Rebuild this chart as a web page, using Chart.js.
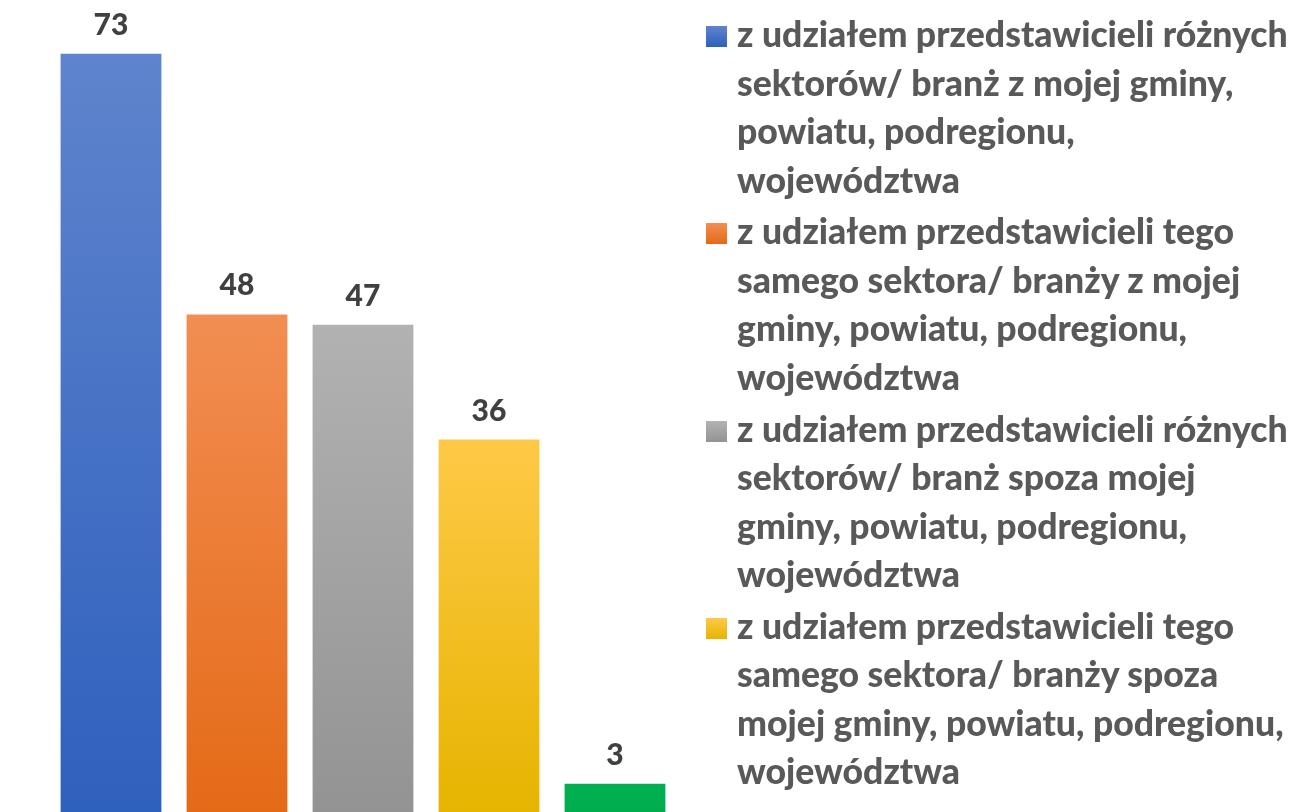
<!DOCTYPE html>
<html>
<head>
<meta charset="utf-8">
<script src="https://cdn.jsdelivr.net/npm/chart.js@4.4.1/dist/chart.umd.min.js"></script>
<style>
  html, body { margin: 0; padding: 0; background: #ffffff; overflow: hidden; width: 1303px; height: 812px; }
  #wrap { position: absolute; left: 0; top: 0; width: 1303px; height: 815px; }
  #legend { position: absolute; left: 0; top: 0; }
  .item { position: absolute; left: 706px; }
  .sw { position: absolute; left: 0; width: 21px; height: 21px; }
  .txt { position: absolute; left: 31px; white-space: pre; color: #595959; font-family: Lato, "Open Sans", sans-serif; font-weight: 900; line-height: 48.5px; }
</style>
</head>
<body>
<div id="wrap"><canvas id="c"></canvas></div>
<div id="legend"></div>
<script>
// ---- data ----
const categories = [
  ["z udziałem przedstawicieli różnych", "sektorów/ branż z mojej gminy,", "powiatu, podregionu,", "województwa"],
  ["z udziałem przedstawicieli tego", "samego sektora/ branży z mojej", "gminy, powiatu, podregionu,", "województwa"],
  ["z udziałem przedstawicieli różnych", "sektorów/ branż spoza mojej", "gminy, powiatu, podregionu,", "województwa"],
  ["z udziałem przedstawicieli tego", "samego sektora/ branży spoza", "mojej gminy, powiatu, podregionu,", "województwa"],
  [""]
];
const values = [73, 48, 47, 36, 3];
const colorsTop = ["#5f84cd", "#f28e52", "#b2b2b2", "#ffc947", "#00b050"];
const colorsBottom = ["#2e60bd", "#e46a17", "#939393", "#e6b400", "#00ad4e"];

// ---- chart ----
function barGradient(ctx) {
  const chart = ctx.chart;
  const area = chart.chartArea;
  if (!area) return colorsTop[ctx.dataIndex];
  const yScale = chart.scales.y;
  const top = yScale.getPixelForValue(values[ctx.dataIndex]);
  const bottom = yScale.getPixelForValue(0);
  const g = chart.ctx.createLinearGradient(0, top, 0, bottom);
  g.addColorStop(0, colorsTop[ctx.dataIndex]);
  g.addColorStop(1, colorsBottom[ctx.dataIndex]);
  return g;
}

const labelPlugin = {
  id: 'valueLabels',
  afterDatasetsDraw(chart) {
    const ctx = chart.ctx;
    const meta = chart.getDatasetMeta(0);
    ctx.save();
    ctx.font = "900 30px Lato, 'Open Sans', sans-serif";
    ctx.fillStyle = "#404040";
    ctx.textAlign = "center";
    ctx.textBaseline = "alphabetic";
    meta.data.forEach((bar, i) => {
      ctx.fillText(String(values[i]), bar.x, bar.y - 19);
    });
    ctx.restore();
  }
};

new Chart(document.getElementById('c'), {
  type: 'bar',
  data: {
    labels: categories,
    datasets: [{
      data: values,
      backgroundColor: barGradient,
      borderWidth: 0,
      barPercentage: 0.8,
      categoryPercentage: 1.0
    }]
  },
  options: {
    responsive: true,
    maintainAspectRatio: false,
    animation: false,
    layout: { padding: { left: 48, right: 625, top: 0, bottom: 0 } },
    plugins: { legend: { display: false }, tooltip: { enabled: false } },
    scales: {
      x: { display: false },
      y: { display: false, min: 0, max: 78.15 }
    }
  },
  plugins: [labelPlugin]
});

// ---- legend (HTML) ----
const legend = document.getElementById('legend');
const mc = document.createElement('canvas').getContext('2d');
mc.font = "900 100px Lato";
const fs = 100 * 551 / mc.measureText(categories[0][0]).width;
categories.slice(0, 4).forEach((lines, i) => {
  const item = document.createElement('div');
  item.className = 'item';
  item.style.top = (10 + i * 197.3) + 'px';
  const sw = document.createElement('div');
  sw.className = 'sw';
  sw.style.top = '16px';
  sw.style.background = 'linear-gradient(' + colorsTop[i] + ',' + colorsBottom[i] + ')';
  const t = document.createElement('div');
  t.className = 'txt';
  t.style.fontSize = fs.toFixed(2) + 'px';
  t.textContent = lines.join('\n');
  item.appendChild(sw);
  item.appendChild(t);
  legend.appendChild(item);
});
</script>
</body>
</html>
